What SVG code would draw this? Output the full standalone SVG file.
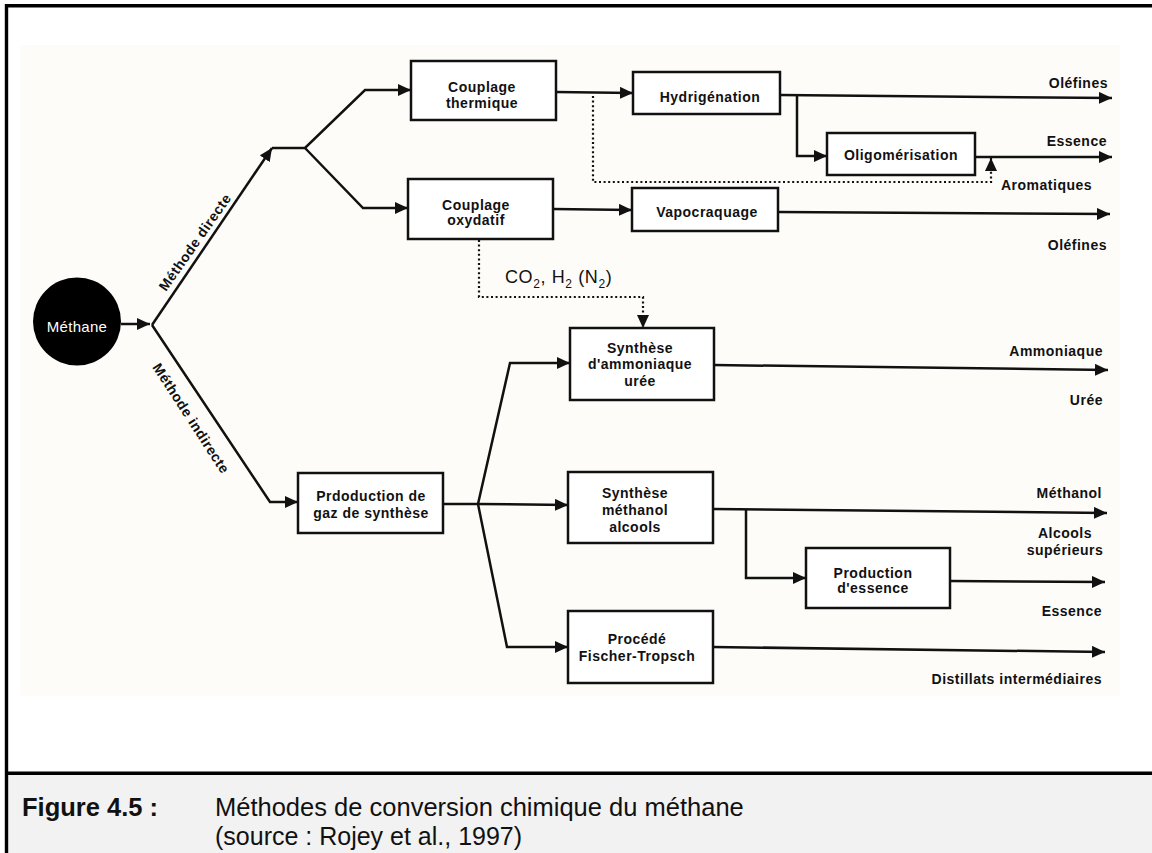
<svg xmlns="http://www.w3.org/2000/svg" width="1152" height="853" viewBox="0 0 1152 853">
<defs>
<style>
.lbl{font-family:"Liberation Sans",Arial,sans-serif;font-weight:bold;font-size:14px;letter-spacing:0.5px;fill:#111}
.box{fill:#fff;stroke:#111;stroke-width:2.5}
.ln{fill:none;stroke:#111;stroke-width:2.5}
.dot{fill:none;stroke:#111;stroke-width:2.2;stroke-dasharray:2 2.6}
.cap{font-family:"Liberation Sans",Arial,sans-serif;fill:#111}
</style>
<marker id="ah" viewBox="0 0 13 12" refX="13" refY="6" markerWidth="13" markerHeight="12" markerUnits="userSpaceOnUse" orient="auto"><path d="M0,0 L13,6 L0,12 z" fill="#111"/></marker>
</defs>
<rect x="0" y="0" width="1152" height="853" fill="#fff"/>
<rect x="20" y="45" width="1100" height="651" fill="#fdfcf9"/>
<rect x="8" y="775" width="1144" height="78" fill="#f2f2f2"/>
<g id="frame" fill="none" stroke="#000" stroke-width="3.4">
<line x1="6.5" y1="5.7" x2="1152" y2="5.7"/>
<line x1="6.5" y1="4" x2="6.5" y2="853"/>
<line x1="5" y1="773.3" x2="1152" y2="773.3"/>
</g>

<g id="connectors">
<line class="ln" x1="121" y1="324" x2="150" y2="324" marker-end="url(#ah)"/>
<line class="ln" x1="152" y1="325" x2="272" y2="148" marker-end="url(#ah)"/>
<polyline class="ln" points="272,148 305,148 365,90 411,90" marker-end="url(#ah)"/>
<polyline class="ln" points="305,148 363,208 408,208" marker-end="url(#ah)"/>
<polyline class="ln" points="152,325 270,502 298,502" marker-end="url(#ah)"/>
<line class="ln" x1="556" y1="92" x2="633" y2="93" marker-end="url(#ah)"/>
<line class="ln" x1="780" y1="95" x2="1112" y2="98" marker-end="url(#ah)"/>
<polyline class="ln" points="797,95 797,156 827,156" marker-end="url(#ah)"/>
<line class="ln" x1="975" y1="157" x2="1112" y2="157" marker-end="url(#ah)"/>
<polyline class="dot" points="593,96 593,182 991,182 991,158" marker-end="url(#ah)"/>
<line class="ln" x1="553" y1="209" x2="632" y2="210" marker-end="url(#ah)"/>
<line class="ln" x1="778" y1="212" x2="1110" y2="214" marker-end="url(#ah)"/>
<polyline class="dot" points="479,240 479,297 643,297 643,328" marker-end="url(#ah)"/>
<line class="ln" x1="443" y1="504" x2="478" y2="504"/>
<polyline class="ln" points="478,504 510,363 570,363" marker-end="url(#ah)"/>
<line class="ln" x1="478" y1="504" x2="568" y2="505" marker-end="url(#ah)"/>
<polyline class="ln" points="478,504 507,647 568,647" marker-end="url(#ah)"/>
<line class="ln" x1="714" y1="365" x2="1108" y2="370" marker-end="url(#ah)"/>
<line class="ln" x1="713" y1="509" x2="1107" y2="513" marker-end="url(#ah)"/>
<polyline class="ln" points="746,510 746,578 806,578" marker-end="url(#ah)"/>
<line class="ln" x1="950" y1="581" x2="1105" y2="582" marker-end="url(#ah)"/>
<line class="ln" x1="713" y1="647" x2="1105" y2="652" marker-end="url(#ah)"/>
</g>

<g id="edge-labels">
<text class="lbl" text-anchor="middle" transform="translate(199,245) rotate(-55)">Méthode directe</text>
<text class="lbl" text-anchor="middle" transform="translate(187,421) rotate(57)">Méthode indirecte</text>
<text class="cap" x="505" y="283" font-size="18" letter-spacing="0.6">CO<tspan dy="5" font-size="12">2</tspan><tspan dy="-5">, H</tspan><tspan dy="5" font-size="12">2</tspan><tspan dy="-5"> (N</tspan><tspan dy="5" font-size="12">2</tspan><tspan dy="-5">)</tspan></text>
</g>

<g id="methane">
<circle cx="77" cy="321.5" r="44" fill="#000"/>
<text class="cap" x="77" y="332" font-size="15" letter-spacing="0.3" text-anchor="middle" style="fill:#fff">Méthane</text>
</g>

<g id="couplage-thermique">
<rect class="box" x="411" y="61" width="145" height="59"/>
<text class="lbl" x="482" y="92" text-anchor="middle">Couplage</text>
<text class="lbl" x="482" y="108" text-anchor="middle">thermique</text>
</g>
<g id="couplage-oxydatif">
<rect class="box" x="408" y="179" width="145" height="60"/>
<text class="lbl" x="476" y="210" text-anchor="middle">Couplage</text>
<text class="lbl" x="476" y="225" text-anchor="middle">oxydatif</text>
</g>
<g id="hydrigenation">
<rect class="box" x="633" y="72" width="147" height="42"/>
<text class="lbl" x="710" y="102" text-anchor="middle">Hydrigénation</text>
</g>
<g id="oligomerisation">
<rect class="box" x="827" y="133" width="148" height="42"/>
<text class="lbl" x="901" y="160" text-anchor="middle">Oligomérisation</text>
</g>
<g id="vapocraquage">
<rect class="box" x="632" y="188" width="146" height="43"/>
<text class="lbl" x="707" y="217" text-anchor="middle">Vapocraquage</text>
</g>
<g id="production-gaz">
<rect class="box" x="298" y="473" width="145" height="60"/>
<text class="lbl" x="371" y="501" text-anchor="middle">Prdoduction de</text>
<text class="lbl" x="371" y="518" text-anchor="middle">gaz de synthèse</text>
</g>
<g id="synthese-ammoniaque">
<rect class="box" x="570" y="328" width="144" height="72"/>
<text class="lbl" x="640" y="353" text-anchor="middle">Synthèse</text>
<text class="lbl" x="640" y="369" text-anchor="middle">d'ammoniaque</text>
<text class="lbl" x="640" y="386" text-anchor="middle">urée</text>
</g>
<g id="synthese-methanol">
<rect class="box" x="568" y="472" width="145" height="71"/>
<text class="lbl" x="635" y="498" text-anchor="middle">Synthèse</text>
<text class="lbl" x="635" y="515" text-anchor="middle">méthanol</text>
<text class="lbl" x="635" y="532" text-anchor="middle">alcools</text>
</g>
<g id="production-essence">
<rect class="box" x="806" y="548" width="144" height="60"/>
<text class="lbl" x="873" y="578" text-anchor="middle">Production</text>
<text class="lbl" x="873" y="593" text-anchor="middle">d'essence</text>
</g>
<g id="fischer-tropsch">
<rect class="box" x="568" y="611" width="145" height="72"/>
<text class="lbl" x="637" y="644" text-anchor="middle">Procédé</text>
<text class="lbl" x="637" y="661" text-anchor="middle">Fischer-Tropsch</text>
</g>

<g id="products">
<text class="lbl" x="1108" y="88" text-anchor="end">Oléfines</text>
<text class="lbl" x="1107" y="146" text-anchor="end">Essence</text>
<text class="lbl" x="1001" y="190">Aromatiques</text>
<text class="lbl" x="1107" y="250" text-anchor="end">Oléfines</text>
<text class="lbl" x="1103" y="356" text-anchor="end">Ammoniaque</text>
<text class="lbl" x="1103" y="405" text-anchor="end">Urée</text>
<text class="lbl" x="1102" y="498" text-anchor="end">Méthanol</text>
<text class="lbl" x="1065" y="538" text-anchor="middle">Alcools</text>
<text class="lbl" x="1065" y="555" text-anchor="middle">supérieurs</text>
<text class="lbl" x="1102" y="616" text-anchor="end">Essence</text>
<text class="lbl" x="1102" y="684" text-anchor="end">Distillats intermédiaires</text>
</g>

<g id="caption">
<text class="cap" x="22" y="816" font-size="25.5" font-weight="bold">Figure 4.5 :</text>
<text class="cap" x="215" y="816" font-size="25.5">Méthodes de conversion chimique du méthane</text>
<text class="cap" x="215" y="845" font-size="25">(source : Rojey et al., 1997)</text>
</g>
</svg>
